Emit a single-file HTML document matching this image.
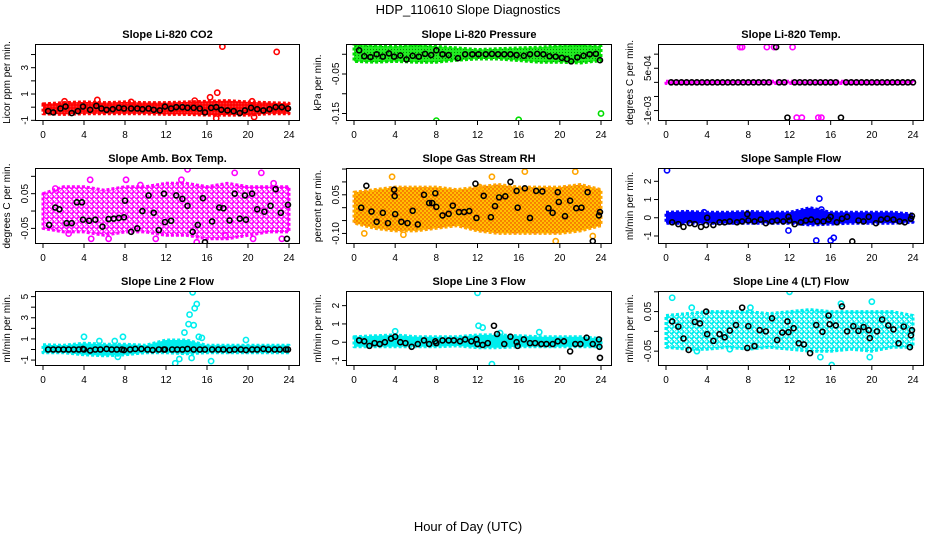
<!DOCTYPE html>
<html><head><meta charset="utf-8">
<style>
html,body{margin:0;padding:0;background:#fff;}
svg{display:block;font-family:"Liberation Sans",sans-serif;}
</style></head>
<body>
<svg id="chart" width="936" height="540" viewBox="0 0 936 540" xmlns="http://www.w3.org/2000/svg">
<defs>
<pattern id="pat-red" width="3" height="3" patternUnits="userSpaceOnUse"><rect width="3" height="3" fill="#ff3030"/><circle cx="1.5" cy="1.5" r="1.5" fill="none" stroke="#ff0000" stroke-width="1.2"/></pattern>
<pattern id="pat-green" width="3" height="3" patternUnits="userSpaceOnUse"><rect width="3" height="3" fill="#22ee22"/><circle cx="1.5" cy="1.5" r="0.6" fill="#008800"/></pattern>
<pattern id="pat-magenta" width="3" height="3" patternUnits="userSpaceOnUse"><rect width="3" height="3" fill="#ff00ff"/></pattern>
<pattern id="pat-magenta-sparse" width="5" height="5" patternUnits="userSpaceOnUse"><circle cx="1.5" cy="1.5" r="2" fill="none" stroke="#ff00ff" stroke-width="1.5"/><circle cx="4" cy="4" r="2" fill="none" stroke="#ff00ff" stroke-width="1.5"/></pattern>
<pattern id="pat-rh" width="4" height="4" patternUnits="userSpaceOnUse"><rect width="4" height="4" fill="#ffc000"/><circle cx="1" cy="1" r="0.7" fill="#ee2200"/><circle cx="3" cy="3" r="0.7" fill="#ee2200"/></pattern>
<pattern id="pat-blue" width="3" height="3" patternUnits="userSpaceOnUse"><rect width="3" height="3" fill="#0000ff"/></pattern>
<pattern id="pat-cyan" width="3" height="3" patternUnits="userSpaceOnUse"><rect width="3" height="3" fill="#00eeee"/></pattern>
<pattern id="pat-cyan-sparse" width="5" height="5" patternUnits="userSpaceOnUse"><circle cx="1.5" cy="1.5" r="2" fill="none" stroke="#00eeee" stroke-width="1.6"/><circle cx="4" cy="4" r="2" fill="none" stroke="#00eeee" stroke-width="1.6"/></pattern>
</defs>
<text x="468" y="14" text-anchor="middle" font-size="13">HDP_110610  Slope Diagnostics</text>
<text x="468" y="531" text-anchor="middle" font-size="13">Hour of Day (UTC)</text>
</svg>
<script>
const xTicks = [0,4,8,12,16,20,24];
const bandHours = [0,2,4,6,8,10,12,14,16,18,20,22,24];

// CO2
const co2Lo = [-0.5,-0.55,-0.5,-0.5,-0.5,-0.5,-0.55,-0.55,-0.6,-0.6,-0.6,-0.5,-0.5];
const co2Hi = [0.25,0.35,0.4,0.35,0.4,0.35,0.35,0.4,0.45,0.5,0.4,0.35,0.3];
const co2BlackH = [0.5,1,1.7,2.2,2.8,3.4,3.9,4.6,5.2,5.7,6.2,6.8,7.4,7.9,8.6,9.2,9.7,10.3,10.8,11.4,11.9,12.5,13,13.6,14.1,14.7,15.3,15.8,16.4,16.9,17.4,18,18.6,19.2,19.7,20.3,20.9,21.5,22.1,22.7,23.3,23.9];
const co2BlackV = [-0.3,-0.4,-0.1,0.05,-0.45,-0.3,0.05,-0.2,0.1,-0.1,-0.2,-0.15,-0.05,-0.1,-0.1,-0.1,-0.15,-0.1,-0.2,-0.25,0.05,-0.1,0.0,0.0,-0.05,-0.05,-0.1,-0.4,-0.05,0.0,-0.2,-0.25,-0.3,-0.45,-0.25,-0.05,-0.15,-0.25,-0.15,0.0,0.0,-0.1];
const co2OutH = [17.5,22.8,17,16.3,14.8,20.4,16.9,20.6,5.3,2.1,8.6];
const co2OutV = [4.6,4.2,1.1,0.75,0.5,0.45,-0.85,-0.75,0.55,0.45,0.4];

// Pressure
const presLo = [-0.018,-0.02,-0.018,-0.02,-0.02,-0.015,-0.012,-0.012,-0.016,-0.02,-0.02,-0.022,-0.016];
const presHi = [0.024,0.022,0.02,0.024,0.02,0.016,0.012,0.014,0.016,0.018,0.022,0.024,0.02];
const presBlackH = [0.5,1,1.6,2.2,2.8,3.4,3.9,4.5,5.1,5.7,6.3,6.9,7.5,8,8.6,9.2,10.1,10.8,11.5,12.1,12.8,13.4,14,14.6,15.2,15.8,16.5,17.1,17.8,18.4,19,19.6,20.2,20.7,21.1,21.7,22.3,22.9,23.5,23.9];
const presBlackV = [0.01,-0.005,-0.007,0.0,-0.006,0.002,-0.006,-0.003,-0.013,-0.004,-0.006,0.001,-0.002,0.01,0.0,-0.002,-0.01,0.0,0.0,0.0,0.0,0.001,0.0,0.0,0.0,-0.002,-0.004,0.0,0.001,0.0,-0.005,-0.006,-0.009,-0.012,-0.018,-0.008,-0.004,0.0,0.001,-0.015];
const presOutH = [8,16,24];
const presOutV = [-0.168,-0.166,-0.15];

// Li-820 Temp
const tempLo = [-0.00004,-0.00004,-0.00004,-0.00004,-0.00004,-0.00004,-0.00004,-0.00004,-0.00004,-0.00004,-0.00004,-0.00004,-0.00004];
const tempHi = [0.00004,0.00004,0.00004,0.00004,0.00004,0.00004,0.00004,0.00004,0.00004,0.00004,0.00004,0.00004,0.00004];
const tempBlackH = [0.5,1,1.5,2,2.5,3,3.5,4,4.5,5,5.5,6,6.5,7,7.5,8,8.5,9,9.5,10,11,11.5,12.5,13,13.5,14,14.5,15,15.5,16,16.5,17.5,18,18.5,19,19.5,20,20.5,21,21.5,22,22.5,23,23.5,24,10.7,11.8,17];
const tempBlackV = [0,0,0,0,0,0,0,0,0,0,0,0,0,0,0,0,0,0,0,0,0,0,0,0,0,0,0,0,0,0,0,0,0,0,0,0,0,0,0,0,0,0,0,0,0,0.00125,-0.00125,-0.00125];
const tempOutH = [7.2,7.4,9.8,10.5,12.3,12.7,13.2,14.8,15.1];
const tempOutV = [0.00125,0.00125,0.00125,0.00125,0.00125,-0.00125,-0.00125,-0.00125,-0.00125];

// Amb box temp
const ambLo = [-0.05,-0.06,-0.06,-0.07,-0.06,-0.06,-0.07,-0.07,-0.08,-0.08,-0.07,-0.06,-0.06];
const ambHi = [0.05,0.07,0.07,0.06,0.07,0.07,0.08,0.08,0.07,0.08,0.07,0.07,0.07];
const ambBlackH = [0.6,1.2,1.6,2.3,2.8,3.3,3.8,3.9,4.5,5.1,5.8,6.4,6.9,7.4,7.9,8,8.6,9.2,9.7,10.3,10.8,11.3,11.8,11.9,12.5,13,13.6,14.1,14.6,15.1,15.6,15.8,16.5,17.2,17.6,18.2,18.7,19.2,19.7,19.8,20.4,20.9,21.6,22.2,22.7,23.2,23.8,23.9];
const ambBlackV = [-0.04,0.01,0.005,-0.035,-0.035,0.025,0.025,-0.025,-0.028,-0.025,-0.045,-0.023,-0.022,-0.02,-0.018,0.03,-0.06,-0.05,0.0,0.045,-0.005,-0.055,0.05,-0.032,-0.028,0.045,0.035,0.015,-0.06,-0.04,0.037,-0.09,-0.03,0.01,0.008,-0.027,0.05,-0.022,0.045,-0.025,0.05,0.005,-0.002,0.015,0.063,-0.005,-0.08,0.018];
const ambOutH = [4.6,8.1,14.1,18.7,21.3,4.7,6.4,11,15,20.5,23.3,13.5,22.5,2.5,9.5,1.2,17.8];
const ambOutV = [0.09,0.09,0.12,0.11,0.11,-0.08,-0.08,-0.08,-0.09,-0.08,-0.08,0.09,0.08,-0.065,0.075,0.065,-0.07];

// Gas stream RH
const rhLo = [-0.06,-0.08,-0.09,-0.09,-0.08,-0.07,-0.09,-0.1,-0.1,-0.1,-0.1,-0.09,-0.07];
const rhHi = [0.06,0.07,0.08,0.08,0.08,0.07,0.08,0.09,0.08,0.08,0.08,0.09,0.07];
const rhBlackH = [0.7,1.2,1.7,2.2,2.8,3.3,3.9,3.95,4,4.6,5.2,5.7,6.2,6.8,7.3,7.6,7.9,8,8.6,9.2,9.6,10.2,10.7,11.2,11.8,11.9,12.6,13.3,13.7,14.1,14.7,15.2,15.8,15.9,16.6,17.1,17.7,18.3,18.9,19.3,19.8,19.9,20.5,21,21.6,22.1,22.7,23.2,23.8,23.9];
const rhBlackV = [0.0,0.085,-0.015,-0.055,-0.02,-0.06,0.07,0.045,-0.025,-0.055,-0.06,-0.012,-0.065,0.05,0.018,0.018,0.056,0.003,-0.03,-0.024,0.008,-0.017,-0.017,-0.013,0.093,-0.04,0.046,-0.037,0.006,0.04,0.044,0.1,0.065,0.0,0.075,-0.04,0.065,0.063,-0.002,-0.02,0.06,0.022,-0.033,0.027,-0.002,0.0,0.06,-0.13,-0.03,-0.017];
const rhOutH = [16.6,21.5,19.6,12.2,4.8,23.2,3.7,13.4,1.0];
const rhOutV = [0.14,0.14,-0.13,0.08,-0.105,-0.11,0.12,0.12,-0.1];

// Sample flow
const sfLo = [-0.3,-0.3,-0.3,-0.3,-0.3,-0.3,-0.3,-0.4,-0.35,-0.3,-0.3,-0.3,-0.25];
const sfHi = [0.3,0.35,0.3,0.3,0.35,0.3,0.3,0.55,0.3,0.3,0.3,0.3,0.2];
const sfBlackH = [0.6,1.2,1.7,2.3,2.8,3.4,3.9,4,4.6,5.2,5.7,6.2,6.9,7.4,7.9,8,8.6,9.2,9.7,10.3,10.8,11.4,11.9,12,12.5,13.1,13.6,14.1,14.7,15.3,15.8,16,16.6,17.1,17.6,18.1,18.7,19.2,19.7,20.4,20.9,21.5,22.1,22.7,23.2,23.8,23.9];
const sfBlackV = [-0.25,-0.35,-0.5,-0.3,-0.35,-0.5,-0.4,0.0,-0.4,-0.25,-0.25,-0.2,-0.25,-0.2,0.2,-0.15,-0.2,-0.1,-0.3,-0.2,-0.15,-0.2,0.05,-0.15,-0.35,-0.25,-0.15,-0.1,-0.2,-0.2,-0.1,0.05,-0.25,-0.05,0.05,-1.3,-0.15,-0.2,0.05,-0.3,-0.1,-0.05,-0.1,-0.2,-0.25,-0.05,0.1];
const sfOutH = [0.1,14.9,11.9,14.6,16,16.3,15.1,3.7];
const sfOutV = [2.6,1.05,-0.7,-1.25,-1.25,-1.1,0.45,0.3];

// Line 2 flow
const l2Lo = [-0.3,-0.3,-0.5,-0.6,-0.5,-0.3,-0.3,-0.4,-0.3,-0.3,-0.3,-0.3,-0.3];
const l2Hi = [0.45,0.4,0.6,0.5,0.5,0.4,0.9,0.9,0.4,0.4,0.4,0.4,0.4];
const l2BlackH = [0.5,1,1.5,2,2.5,3,3.5,3.9,4,4.6,5.1,5.6,6.2,6.7,7.2,7.7,7.9,8.5,9,9.6,10.2,10.7,11.3,11.8,11.9,12.6,13.1,13.6,14.1,14.7,15.3,15.8,16.5,17.1,17.6,18.2,18.7,19.3,19.8,20.4,20.9,21.5,22,22.6,23.1,23.7,23.9];
const l2BlackV = [0,0,0,0,0,0,0,0.05,0,-0.1,0,0,0.05,0,0,0,-0.05,0,0.05,0.05,0,-0.05,0,0,0,0,0,0,0.05,0,0,0,0,0,0,-0.05,0,0,-0.05,0,0,0.05,0,0,0,0,0];
const l2OutH = [14.6,15,14.8,14.3,14.2,14.7,13.8,15.2,4,7.8,13.3,12.9,14.5,16.4,7.3,19.8,5.5,15.5,7];
const l2OutV = [5.4,4.3,3.9,3.3,2.4,2.3,1.6,1.2,1.2,1.2,-0.9,-1.3,-0.8,-1.1,-0.7,0.9,0.8,1.1,0.8];

// Line 3 flow
const l3Lo = [-0.25,-0.25,-0.25,-0.25,-0.25,-0.2,-0.3,-0.3,-0.25,-0.25,-0.25,-0.25,-0.25];
const l3Hi = [0.3,0.35,0.4,0.3,0.3,0.3,0.4,0.4,0.35,0.3,0.3,0.3,0.2];
const l3BlackH = [0.5,1,1.5,2,2.5,3,3.6,4,4.5,5,5.6,6.2,6.8,7.3,7.9,8,8.6,9.2,9.7,10.3,10.8,11.4,11.9,12,12.5,13,13.6,13.9,14.6,15.2,15.8,15.9,16.5,17.1,17.6,18.2,18.7,19.3,19.8,20.4,21,21.5,22,22.6,23.2,23.8,23.85,23.9];
const l3BlackV = [0.1,0.05,-0.2,-0.05,-0.1,0,0.2,0.3,0.0,-0.05,-0.25,-0.1,0.1,-0.1,0.05,-0.05,0.1,0.1,0.1,0.05,0.15,0.05,0.15,-0.1,-0.15,-0.05,0.9,0.45,-0.1,0.3,0.0,-0.2,0.15,-0.05,-0.05,-0.1,-0.1,-0.1,0.05,0.05,-0.5,-0.1,-0.1,0.25,-0.1,0.15,-0.25,-0.85];
const l3OutH = [12,13.4,12.1,12.5,4,14.2,18];
const l3OutV = [2.7,-1.2,0.9,0.8,0.6,0.5,0.55];

// Line 4 (LT) flow
const l4Lo = [-0.04,-0.045,-0.045,-0.04,-0.045,-0.04,-0.045,-0.05,-0.05,-0.045,-0.05,-0.04,-0.04];
const l4Hi = [0.04,0.045,0.05,0.05,0.05,0.045,0.05,0.055,0.05,0.05,0.05,0.05,0.04];
const l4BlackH = [0.6,1.2,1.7,2.2,2.8,3.3,3.9,4,4.6,5.2,5.7,6.2,6.8,7.4,7.9,8,8.6,9.1,9.7,10.3,10.8,11.3,11.8,11.9,12.4,12.9,13.4,14,14.6,15.2,15.8,15.9,16.5,17.1,17.6,18.2,18.7,19.2,19.7,19.8,20.5,21,21.6,22.1,22.6,23.1,23.7,23.8,23.9];
const l4BlackV = [0.025,0.012,-0.018,-0.047,0.024,0.02,0.05,-0.007,-0.024,-0.007,-0.015,0.002,0.016,0.06,-0.042,0.013,-0.037,0.003,0.0,0.033,-0.022,-0.003,0.025,-0.002,0.008,-0.03,-0.033,-0.055,0.016,-0.001,0.04,0.018,0.015,0.063,0.0,0.013,0.001,0.011,0.003,-0.017,0.0,0.03,0.015,0.005,-0.03,0.012,-0.04,-0.01,0.003];
const l4OutH = [0.6,12,20,16.1,15,19.8,2.5,17,3,8.2,6.2];
const l4OutV = [0.085,0.1,0.075,-0.085,-0.065,-0.065,0.06,0.07,-0.05,0.06,-0.045];

const NS = "http://www.w3.org/2000/svg";
const svg = document.getElementById('chart');
function mk(tag, attrs, parent) {
  const e = document.createElementNS(NS, tag);
  for (const k in attrs) e.setAttribute(k, attrs[k]);
  (parent || svg).appendChild(e);
  return e;
}

const colX = [[35,300],[346,612],[658,924]];
const rowY = [[44,121],[168,244],[291,366]];

const panels = [
  {id:'co2', title:'Slope Li-820 CO2', ylab:'Licor ppm per min.', col:0,row:0, ymin:-1.05, ymax:4.8, ticks:[-1,0,1,2,3,4], labels:{'-1':'-1','1':'1','3':'3'}, pat:'pat-red', color:'#ff0000', lo:co2Lo, hi:co2Hi, bh:co2BlackH, bv:co2BlackV, oh:co2OutH, ov:co2OutV},
  {id:'pressure', title:'Slope Li-820 Pressure', ylab:'kPa per min.', col:1,row:0, ymin:-0.169, ymax:0.026, ticks:[0,-0.05,-0.1,-0.15], labels:{'-0.05':'-0.05','-0.15':'-0.15'}, pat:'pat-green', color:'#00dd00', lo:presLo, hi:presHi, bh:presBlackH, bv:presBlackV, oh:presOutH, ov:presOutV},
  {id:'temp', title:'Slope Li-820 Temp.', ylab:'degrees C per min.', col:2,row:0, ymin:-0.00137, ymax:0.00136, ticks:[0.001,0.0005,0,-0.0005,-0.001], labels:{'0.0005':'5e-04','-0.001':'-1e-03'}, pat:'pat-magenta', color:'#ff00ff', lo:tempLo, hi:tempHi, bh:tempBlackH, bv:tempBlackV, oh:tempOutH, ov:tempOutV},
  {id:'amb-box-temp', title:'Slope Amb. Box Temp.', ylab:'degrees C per min.', col:0,row:1, ymin:-0.095, ymax:0.124, ticks:[0.1,0.05,0,-0.05], labels:{'0.05':'0.05','-0.05':'-0.05'}, pat:'pat-magenta-sparse', color:'#ff00ff', lo:ambLo, hi:ambHi, bh:ambBlackH, bv:ambBlackV, oh:ambOutH, ov:ambOutV},
  {id:'gas-stream-rh', title:'Slope Gas Stream RH', ylab:'percent per min.', col:1,row:1, ymin:-0.141, ymax:0.154, ticks:[0.15,0.1,0.05,0,-0.05,-0.1], labels:{'0.05':'0.05','-0.1':'-0.10'}, pat:'pat-rh', color:'#ffa500', lo:rhLo, hi:rhHi, bh:rhBlackH, bv:rhBlackV, oh:rhOutH, ov:rhOutV},
  {id:'sample-flow', title:'Slope Sample Flow', ylab:'ml/min per min.', col:2,row:1, ymin:-1.44, ymax:2.73, ticks:[2,1,0,-1], labels:{'2':'2','1':'1','0':'0','-1':'-1'}, pat:'pat-blue', color:'#0000ff', lo:sfLo, hi:sfHi, bh:sfBlackH, bv:sfBlackV, oh:sfOutH, ov:sfOutV},
  {id:'line2-flow', title:'Slope Line 2 Flow', ylab:'ml/min per min.', col:0,row:2, ymin:-1.56, ymax:5.53, ticks:[5,4,3,2,1,0,-1], labels:{'5':'5','3':'3','1':'1','-1':'-1'}, pat:'pat-cyan', color:'#00eeee', lo:l2Lo, hi:l2Hi, bh:l2BlackH, bv:l2BlackV, oh:l2OutH, ov:l2OutV},
  {id:'line3-flow', title:'Slope Line 3 Flow', ylab:'ml/min per min.', col:1,row:2, ymin:-1.30, ymax:2.80, ticks:[2,1,0,-1], labels:{'2':'2','1':'1','0':'0','-1':'-1'}, pat:'pat-cyan', color:'#00eeee', lo:l3Lo, hi:l3Hi, bh:l3BlackH, bv:l3BlackV, oh:l3OutH, ov:l3OutV},
  {id:'line4-flow', title:'Slope Line 4 (LT) Flow', ylab:'ml/min per min.', col:2,row:2, ymin:-0.0875, ymax:0.102, ticks:[0.1,0.05,0,-0.05], labels:{'0.05':'0.05','-0.05':'-0.05'}, pat:'pat-cyan-sparse', color:'#00eeee', lo:l4Lo, hi:l4Hi, bh:l4BlackH, bv:l4BlackV, oh:l4OutH, ov:l4OutV}
];

panels.forEach(p => {
  const [L,R] = colX[p.col];
  const [T,B] = rowY[p.row];
  const x0 = L + 8, x1 = R - 11;
  const xs = h => x0 + (h/24)*(x1-x0);
  const ys = v => B - (v - p.ymin)/(p.ymax - p.ymin)*(B-T);
  const g = mk('g', {});
  
  
  const clipId = 'clip-' + p.id;
  const cp = mk('clipPath', {id:clipId}, g);
  mk('rect', {x:L, y:T, width:R-L, height:B-T}, cp);

  const t = mk('text', {x:(L+R)/2, y:T-6, 'text-anchor':'middle', 'font-size':'11', 'font-weight':'bold'}, g);
  t.textContent = p.title;
  
  

  const yl = mk('text', {x:0, y:0, transform:`translate(${L-25},${(T+B)/2}) rotate(-90)`, 'text-anchor':'middle', 'font-size':'10'}, g);
  yl.textContent = p.ylab;
  
  

  const plot = mk('g', {'clip-path':`url(#${clipId})`}, g);
  let d = '';
  bandHours.forEach((h,i) => { d += (i? 'L':'M') + xs(h).toFixed(1) + ',' + ys(p.hi[i]).toFixed(1); });
  for (let i = bandHours.length-1; i >= 0; i--) d += 'L' + xs(bandHours[i]).toFixed(1) + ',' + ys(p.lo[i]).toFixed(1);
  d += 'Z';
  const band = mk('path', {d:d, fill:`url(#${p.pat})`, stroke:p.color, 'stroke-width':3, 'stroke-linejoin':'round', 'stroke-dasharray':'3 2'}, plot);
  
  

  p.oh.forEach((h,i) => {
    const c = mk('circle', {cx:xs(h), cy:ys(p.ov[i]), r:2.6, fill:'none', stroke:p.color, 'stroke-width':1.6}, plot);
    
    
  });
  p.bh.forEach((h,i) => {
    const c = mk('circle', {cx:xs(h), cy:ys(p.bv[i]), r:2.5, fill:'none', stroke:'#000', 'stroke-width':1.6}, plot);
    
    
  });

  const box = mk('rect', {x:L+0.5, y:T+0.5, width:R-L-1, height:B-T-1, fill:'none', stroke:'#000', 'stroke-width':1}, g);
  
  

  xTicks.forEach(h => {
    mk('line', {x1:xs(h), x2:xs(h), y1:B, y2:B+4, stroke:'#000'}, g);
    const tl = mk('text', {x:xs(h), y:B+17, 'text-anchor':'middle', 'font-size':'10'}, g);
    tl.textContent = h;
    
    
  });
  p.ticks.forEach(v => {
    const y = ys(v);
    mk('line', {x1:L-4, x2:L, y1:y, y2:y, stroke:'#000'}, g);
    const lab = p.labels[String(v)];
    if (lab !== undefined) {
      const tl = mk('text', {x:0, y:0, transform:`translate(${L-7},${y}) rotate(-90)`, 'text-anchor':'middle', 'font-size':'10'}, g);
      tl.textContent = lab;
      
      
    }
  });
});
</script>
</body></html>
